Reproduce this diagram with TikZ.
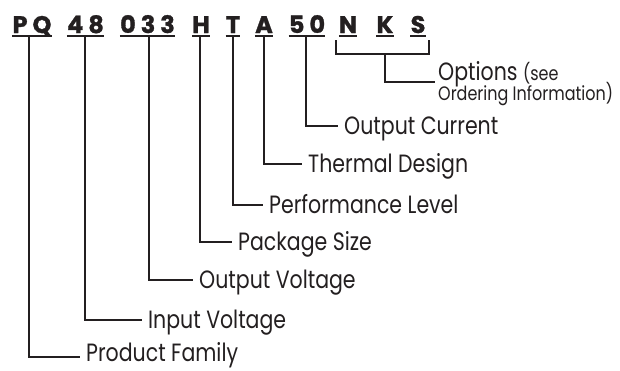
\documentclass[tikz,border=0pt]{standalone}
\usepackage{fontspec}
\setmainfont{Poppins}[FakeStretch=0.82]
\newfontfamily\codefont{Poppins}[BoldFeatures={FakeBold=1.2}]
\definecolor{ink}{HTML}{231F20}
\begin{document}
\begin{tikzpicture}[x=1pt,y=-1pt,
  code/.style={font=\codefont\bfseries\fontsize{24}{24}\selectfont, inner sep=0pt, anchor=base, text=ink},
  lbl/.style={font=\fontsize{25}{25}\selectfont, inner sep=0pt, anchor=base west, text=ink},
  small/.style={font=\fontsize{19.5}{19.5}\selectfont, inner sep=0pt, anchor=base west, text=ink},
  conn/.style={draw=ink, line width=2pt},
  uline/.style={draw=ink, line width=2pt}]
\useasboundingbox (0,0) rectangle (620,370);
% code letters
\node[code] (pq) at (32,33) {P\kern5pt Q};
\node[code] (v48) at (85.5,33) {4\kern5pt 8};
\node[code] (v033) at (147.5,33) {0\kern5pt 3\kern5pt 3};
\node[code] (h) at (201,33) {H};
\node[code] (t) at (233,33) {T};
\node[code] (a) at (264,33) {A};
\node[code] (v50) at (307,33) {5\kern5pt 0};
\node[code] (n) at (348,33) {N};
\node[code] (k) at (385,33) {K};
\node[code] (s) at (418,33) {S};
\foreach \c in {pq,v48,v033,h,t,a,v50,n,k,s}
  \draw[uline] ([yshift=-2.5pt]\c.base west) -- ([yshift=-2.5pt]\c.base east);
% labels
\node[lbl] (opt) at (438,80) {Options {\fontsize{19.5}{19.5}\selectfont(see}};
\node[small] (ord) at (438,100) {Ordering Information)};
\node[lbl] (oc) at (344,134) {Output Current};
\node[lbl] (td) at (308,172) {Thermal Design};
\node[lbl] (pl) at (269,213) {Performance Level};
\node[lbl] (ps) at (238,250) {Package Size};
\node[lbl] (ov) at (199,288) {Output Voltage};
\node[lbl] (iv) at (148,328) {Input Voltage};
\node[lbl] (pf) at (86,361) {Product Family};
% connectors
\draw[conn] ([xshift=-3pt,yshift=-2.5pt]pq.base) |- ([xshift=-6pt,yshift=4pt]pf.base west);
\draw[conn] ([xshift=-0.5pt,yshift=-2.5pt]v48.base) |- ([xshift=-6pt,yshift=8pt]iv.base west);
\draw[conn] ([xshift=1.5pt,yshift=-2.5pt]v033.base) |- ([xshift=-6pt,yshift=8pt]ov.base west);
\draw[conn] ([xshift=-1pt,yshift=-2.5pt]h.base) |- ([xshift=-6pt,yshift=8pt]ps.base west);
\draw[conn] ([yshift=-2.5pt]t.base) |- ([xshift=-6pt,yshift=8pt]pl.base west);
\draw[conn] ([yshift=-2.5pt]a.base) |- ([xshift=-6pt,yshift=8pt]td.base west);
\draw[conn] ([xshift=-1pt,yshift=-2.5pt]v50.base) |- ([xshift=-6pt,yshift=8pt]oc.base west);
% bracket for options
\draw[conn] ([xshift=-3pt,yshift=-7pt]n.base west) -- ++(0,14) -| ([xshift=3pt,yshift=-7pt]s.base east);
\coordinate (brk) at ([yshift=-21pt]k.base);
\draw[conn] (brk) |- ([xshift=-3pt,yshift=-2pt]opt.base west);
\end{tikzpicture}
\end{document}
